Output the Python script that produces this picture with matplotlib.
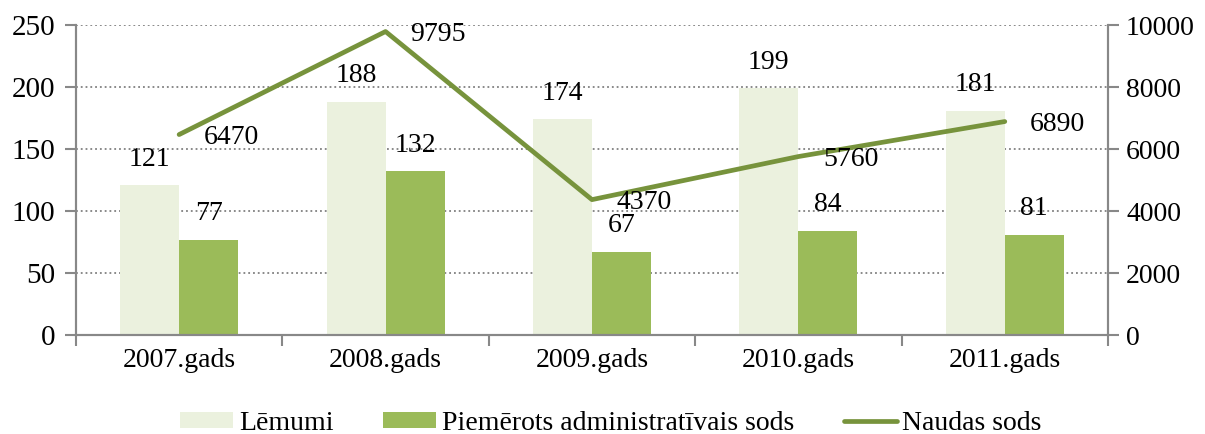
from matplotlib import pyplot as plt
import numpy as np

# dati
gadi = ['2007.gads', '2008.gads', '2009.gads', '2010.gads', '2011.gads']
lemumi = [121, 188, 174, 199, 181]
sodi = [77, 132, 67, 84, 81]
naudas_sods = [6470, 9795, 4370, 5760, 6890]

c_light = '#EBF1DE'
c_green = '#9BBB59'
c_line = '#77933C'
c_axis = '#888888'
fs = 20

plt.rcParams['font.family'] = ['Liberation Serif', 'DejaVu Serif']

fig = plt.figure(figsize=(12.05, 4.34), dpi=100)
ax = fig.add_axes([0.063, 0.228, 0.8565, 0.714])
ax2 = ax.twinx()

x = np.arange(len(gadi))
w = 0.286

b1 = ax.bar(x - w / 2, lemumi, w, color=c_light, zorder=2)
b2 = ax.bar(x + w / 2, sodi, w, color=c_green, zorder=2)

# etiķetes virs stabiņiem
for xi, v in zip(x, lemumi):
    ax.text(xi - w / 2, v + 21, str(v), ha='center', va='center', fontsize=fs)
for xi, v in zip(x, sodi):
    ax.text(xi + w / 2, v + 21, str(v), ha='center', va='center', fontsize=fs)

ln, = ax2.plot(x, naudas_sods, color=c_line, lw=3.4, solid_capstyle='round')
for xi, v in zip(x, naudas_sods):
    ax2.text(xi + 0.12, v - 100, str(v), ha='left', va='center', fontsize=fs)

ax.set_xlim(-0.5, len(gadi) - 0.5)
ax.set_ylim(0, 250)
ax2.set_ylim(0, 10000)
ax.set_yticks(np.arange(0, 251, 50))
ax2.set_yticks(np.arange(0, 10001, 2000))

ax.set_xticks(x)
ax.set_xticklabels(gadi)
ax.set_xticks(np.arange(-0.5, len(gadi), 1), minor=True)
ax.tick_params(axis='x', which='major', length=0, pad=9, labelsize=fs)
ax.tick_params(axis='x', which='minor', length=8, color=c_axis, width=1.5)
ax.tick_params(axis='y', length=8, color=c_axis, width=1.5, labelsize=21, pad=7)
ax2.tick_params(axis='y', length=8, color=c_axis, width=1.5, labelsize=fs, pad=5)

ax.grid(True, axis='y', ls=':', lw=1.3, color='#808080', zorder=0)
ax.set_axisbelow(True)

for a in (ax, ax2):
    a.spines['top'].set_visible(False)
    for s in ('left', 'right', 'bottom'):
        a.spines[s].set_color(c_axis)
        a.spines[s].set_linewidth(1.5)

fig.legend([b1, b2, ln], ['Lēmumi', 'Piemērots administratīvais sods', 'Naudas sods'],
           loc='center', bbox_to_anchor=(611 / 1205, 1 - 423 / 434), ncol=3, frameon=False,
           fontsize=fs, handlelength=1.9, handleheight=0.5, handletextpad=0.2,
           columnspacing=1.8, borderpad=0)

fig.savefig('out.png', dpi=100)
